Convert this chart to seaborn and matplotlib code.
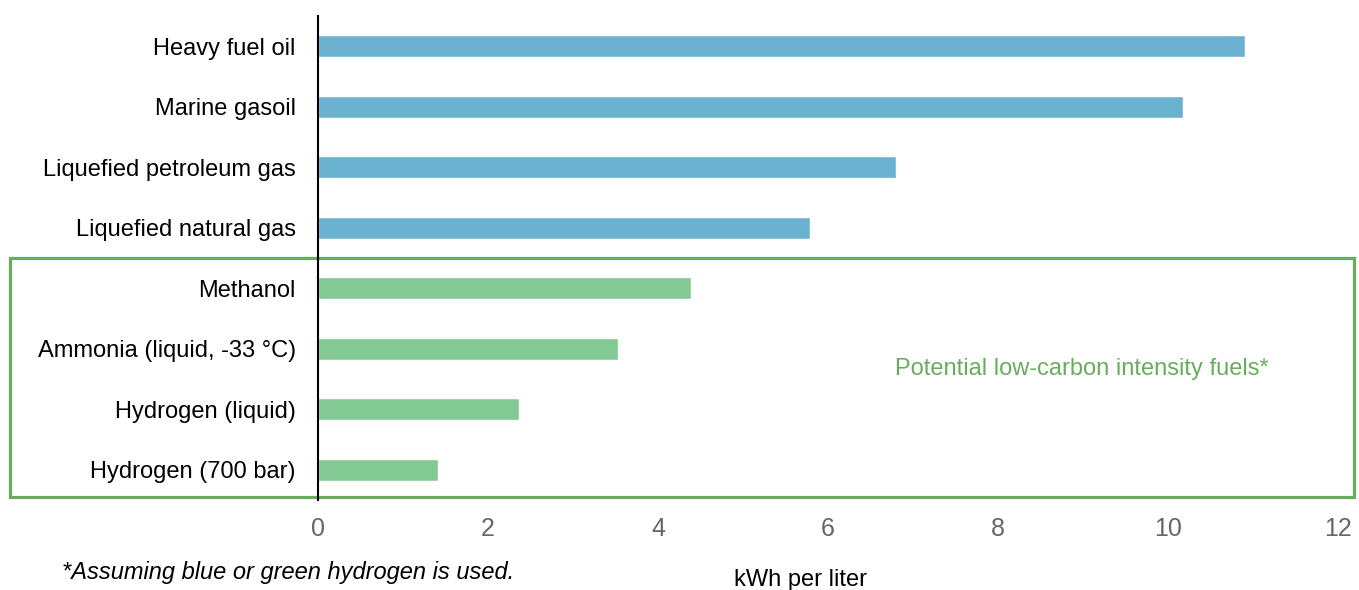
import matplotlib
matplotlib.use("Agg")
import matplotlib.pyplot as plt
import seaborn as sns
import pandas as pd
from matplotlib.patches import Rectangle

fuels = ["Heavy fuel oil", "Marine gasoil", "Liquefied petroleum gas",
         "Liquefied natural gas", "Methanol", "Ammonia (liquid, -33 °C)",
         "Hydrogen (liquid)", "Hydrogen (700 bar)"]
kwh_per_liter = [10.9, 10.18, 6.8, 5.79, 4.39, 3.53, 2.37, 1.41]
groups = ["conventional"] * 4 + ["low-carbon"] * 4
x_ticks = [0, 2, 4, 6, 8, 10, 12]

BLUE = "#6bb2d1"
GREEN = "#83c994"
BOX_GREEN = "#69ad5c"

sns.set_theme(style="white")
plt.rcParams["font.family"] = ["Liberation Sans", "DejaVu Sans"]

df = pd.DataFrame({"fuel": fuels, "kwh": kwh_per_liter, "group": groups})

fig = plt.figure(figsize=(13.59, 5.90), dpi=100)
ax = fig.add_axes([318 / 1359, 1 - 500 / 590, 1020 / 1359, 484 / 590])

sns.barplot(data=df, x="kwh", y="fuel", hue="group", dodge=False,
            palette={"conventional": BLUE, "low-carbon": GREEN},
            saturation=1, width=0.36, legend=False, ax=ax)

ax.set_xlim(0, 12)
ax.set_ylim(7.5, -0.5)
ax.set_xticks(x_ticks)
ax.set_xticklabels([str(t) for t in x_ticks],
                   family=["Liberation Sans Narrow", "Liberation Sans"])
ax.set_xlabel("")
ax.set_ylabel("")
for s in ["top", "right", "bottom"]:
    ax.spines[s].set_visible(False)
ax.spines["left"].set_color("black")
ax.spines["left"].set_linewidth(1.5)
ax.tick_params(axis="y", length=0, pad=16, labelsize=17, labelcolor="black")
ax.tick_params(axis="x", length=0, pad=12, labelsize=18, labelcolor="#666666")
ax.grid(False)

# box around the low-carbon fuels
box = Rectangle((-0.302, 0.006), 1.318, 0.494, transform=ax.transAxes,
                fill=False, edgecolor=BOX_GREEN, linewidth=2.3, clip_on=False)
ax.add_patch(box)
ax.text(0.749, 0.27, "Potential low-carbon intensity fuels*", transform=ax.transAxes,
        ha="center", va="center", color=BOX_GREEN, fontsize=17)

fig.text(62 / 1359, 1 - 573 / 590, "*Assuming blue or green hydrogen is used.",
         ha="left", va="center", fontsize=17, style="italic", color="black")
fig.text(800 / 1359, 1 - 580 / 590, "kWh per liter", ha="center", va="center",
         fontsize=17, color="black")

fig.savefig("out.png", dpi=100)
